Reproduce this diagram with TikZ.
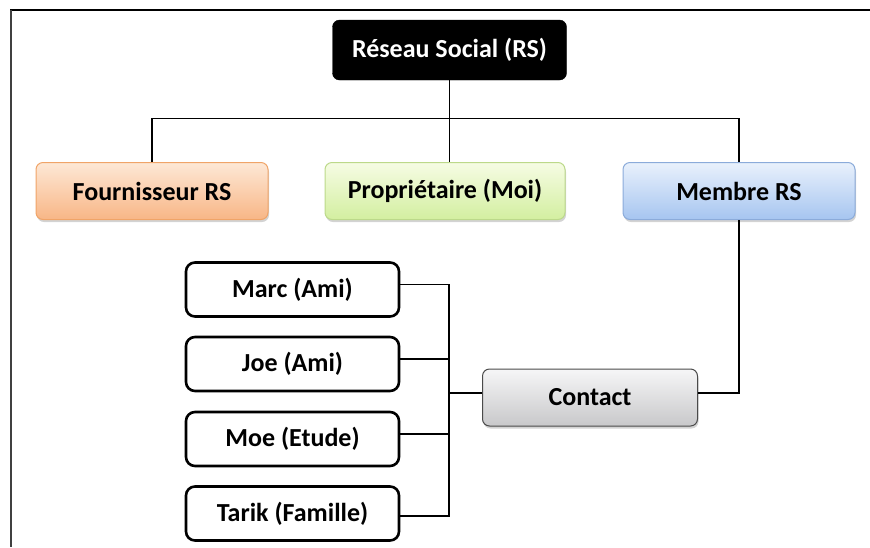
\documentclass[tikz,border=0pt]{standalone}
\usepackage{fontspec}
\setmainfont{Carlito}
\usetikzlibrary{shadows}
\definecolor{orT}{HTML}{FDE8D6}
\definecolor{orB}{HTML}{F8B686}
\definecolor{orD}{HTML}{F0A468}
\definecolor{grT}{HTML}{F6FCE4}
\definecolor{grB}{HTML}{D3EFA0}
\definecolor{grD}{HTML}{BCD98A}
\definecolor{blT}{HTML}{E9F1FC}
\definecolor{blB}{HTML}{A6C5F0}
\definecolor{blD}{HTML}{8BABDA}
\definecolor{gyT}{HTML}{F6F6F7}
\definecolor{gyB}{HTML}{C8C8CA}
\definecolor{gyD}{HTML}{4A4A4A}
\tikzset{
  txt/.style={font=\fontsize{26}{30}\selectfont\bfseries, inner sep=0pt, align=center},
  rootbox/.style={txt, fill=black, text=white, draw=black, rounded corners=7pt, minimum width=234pt, minimum height=60pt},
  colbox/.style={txt, rounded corners=7pt, minimum height=57pt, line width=1pt,
     drop shadow={opacity=0.35, shadow xshift=1pt, shadow yshift=-2.5pt}},
  orbox/.style={colbox, draw=orD, top color=orT, bottom color=orB},
  grbox/.style={colbox, draw=grD, top color=grT, bottom color=grB},
  blbox/.style={colbox, draw=blD, top color=blT, bottom color=blB},
  gybox/.style={colbox, draw=gyD, top color=gyT, bottom color=gyB},
  wbox/.style={txt, draw=black, fill=white, line width=2.6pt, rounded corners=9pt, minimum width=213pt, minimum height=54pt},
  conn/.style={draw=black, line width=1.8pt},
}
\begin{document}
\begin{tikzpicture}[x=1pt,y=-1pt]
\useasboundingbox (0,0) rectangle (870,547);
\draw[line width=2pt, black] (10,9.5) -- (870,9.5);
\draw[line width=2pt, black!75] (11,9.5) -- (11,547);

\node[rootbox] (root) at (449.5,50) {Réseau Social (RS)};
\node[orbox, minimum width=232pt] (four) at (152,191) {Fournisseur RS};
\node[grbox, minimum width=240pt] (prop) at (445,191) {Propriétaire (Moi)};
\node[blbox, minimum width=232pt] (memb) at (739,191) {Membre RS};
\node[gybox, minimum width=215pt] (cont) at (590,397.5) {Contact};
\node[wbox] (marc) at (292.5,289.5) {Marc (Ami)};
\node[wbox] (joe) at (292.5,364) {Joe (Ami)};
\node[wbox] (moe) at (292.5,439) {Moe (Etude)};
\node[wbox] (tarik) at (292.5,513.5) {Tarik (Famille)};

\coordinate (bus) at (449.5,118.5);
\coordinate (bx) at (449,0);

\draw[conn] (four.north) |- (bus) -| (memb.north);
\draw[conn] (root.south) -- (root.south |- prop.north);
\draw[conn] (memb.south) |- ([yshift=4.5pt]cont.east);

\draw[conn] ([yshift=5pt]marc.east) -- ([yshift=5pt]marc.east -| bx)
  -- ([yshift=-2.5pt]tarik.east -| bx) -- ([yshift=-2.5pt]tarik.east);
\draw[conn] ([yshift=5pt]joe.east) -- ([yshift=5pt]joe.east -| bx);
\draw[conn] ([yshift=5pt]moe.east) -- ([yshift=5pt]moe.east -| bx);
\draw[conn] ([yshift=4.5pt]cont.west) -- ([yshift=4.5pt]cont.west -| bx);
\end{tikzpicture}
\end{document}
